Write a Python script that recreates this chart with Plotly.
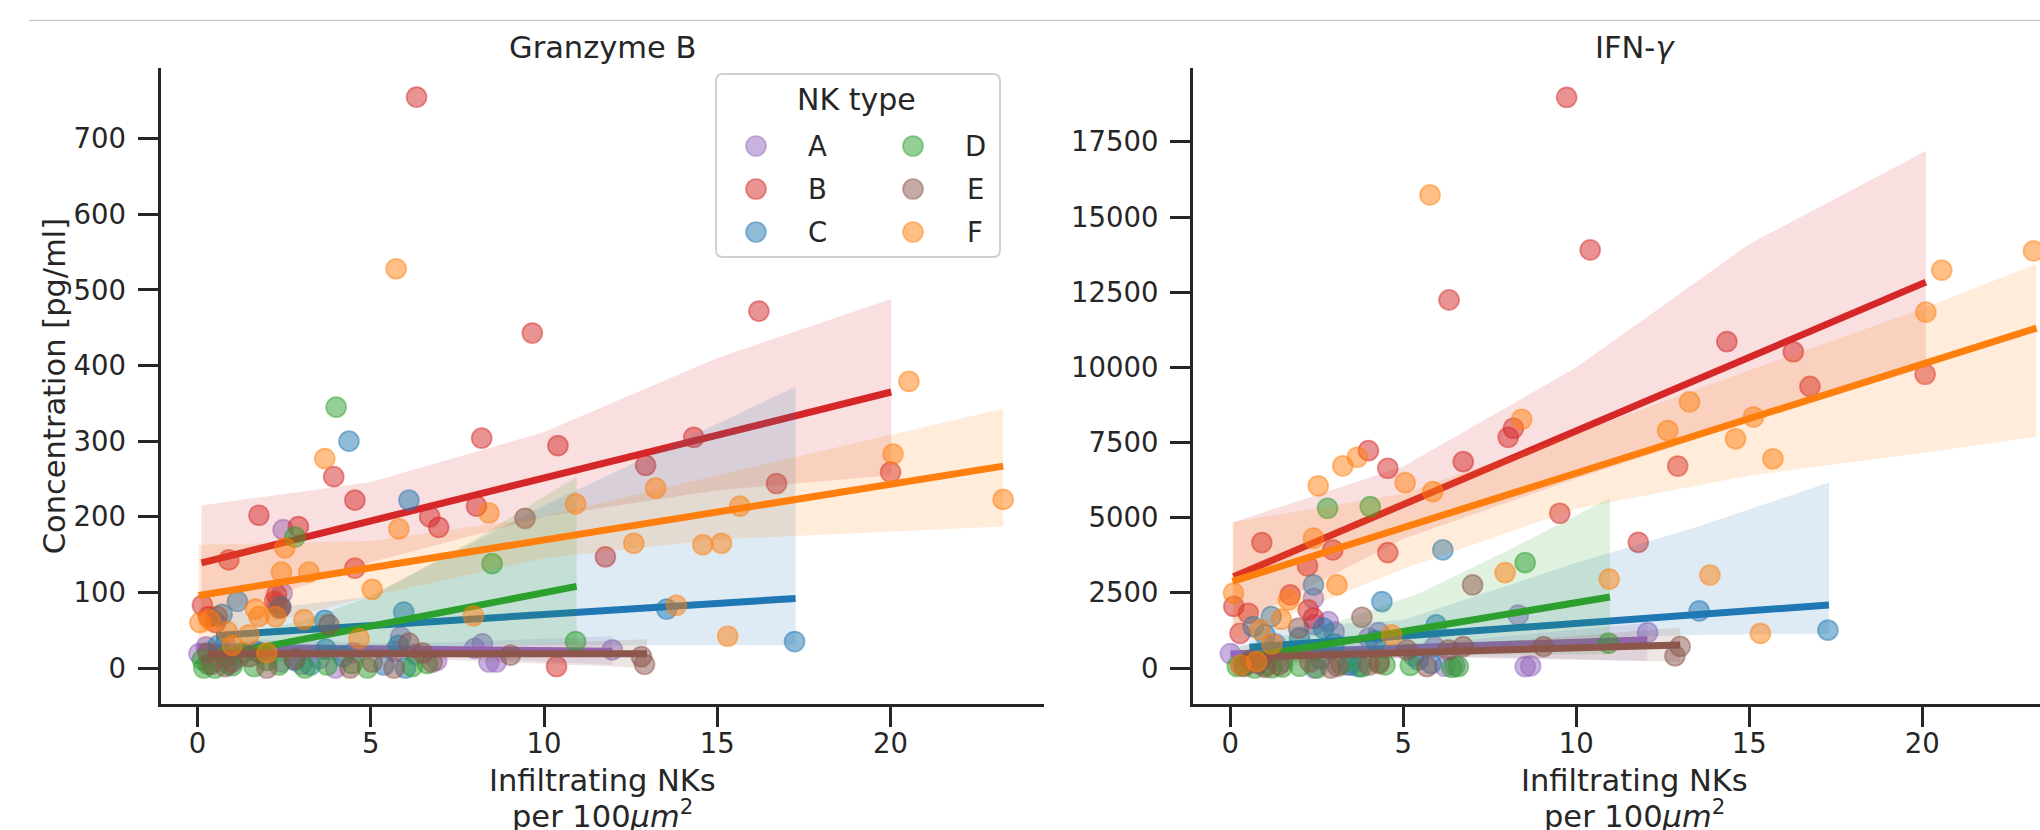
import plotly.graph_objects as go

# ---------------- data ----------------
GROUPS = ["A", "B", "C", "D", "E", "F"]
COLORS = {"A": (148, 103, 189), "B": (214, 39, 40), "C": (31, 119, 180),
          "D": (44, 160, 44), "E": (140, 86, 75), "F": (255, 127, 14)}

# Granzyme B panel: x (infiltrating NKs) and concentration per NK type
A_x_gzb = [0.04, 0.25, 0.8, 1.2, 1.7, 2.3, 2.44, 2.47, 2.4, 3.0, 3.5, 3.98, 4.5, 5.68, 5.86, 6.3, 6.9, 8.0, 8.22, 8.41, 8.62, 11.97]
A_gzb = [19, 28, 30, 15, 22, 85, 99, 183, 8, 5, 12, 0, 20, 22, 41, 18, 10, 26, 32, 8, 8, 24]
B_x_gzb = [0.14, 0.31, 0.52, 0.9, 1.77, 2.22, 2.28, 2.4, 2.91, 3.93, 4.54, 4.54, 6.32, 6.7, 6.96, 8.05, 8.2, 9.66, 10.36, 10.4, 11.77, 12.93, 14.32, 16.2, 16.71, 20.0]
B_gzb = [83, 68, 60, 143, 202, 88, 97, 80, 187, 253, 222, 132, 755, 200, 186, 214, 304, 443, 2, 294, 147, 268, 305, 472, 244, 259]
C_x_gzb = [0.6, 0.71, 0.9, 1.15, 1.8, 2.4, 2.8, 3.26, 3.67, 3.7, 4.2, 4.37, 5.38, 5.8, 5.95, 6.0, 6.1, 13.54, 17.23]
C_gzb = [30, 71, 5, 88, 20, 81, 10, 4, 63, 25, 15, 300, 4, 30, 74, 0, 222, 78, 35]
D_x_gzb = [0.14, 0.18, 0.3, 0.5, 0.8, 1.0, 1.3, 1.63, 2.0, 2.35, 2.81, 3.1, 3.74, 4.0, 4.46, 4.9, 6.2, 6.63, 8.5, 10.91]
D_gzb = [11, 0, 5, 0, 15, 3, 20, 2, 10, 4, 173, 0, 4, 345, 6, 0, 2, 6, 138, 35]
E_x_gzb = [0.3, 0.4, 0.57, 0.8, 1.0, 1.5, 2.0, 2.35, 2.8, 3.79, 4.4, 5.04, 5.67, 6.1, 6.5, 6.77, 9.03, 9.45, 12.81, 12.9]
E_gzb = [20, 5, 68, 2, 8, 15, 0, 79, 12, 57, 0, 8, 0, 33, 20, 8, 17, 198, 15, 5]
F_x_gzb = [0.07, 0.36, 0.86, 1.0, 1.48, 1.67, 1.77, 2.0, 2.25, 2.42, 2.52, 3.07, 3.21, 3.67, 4.66, 5.04, 5.73, 5.81, 7.96, 8.41, 10.91, 12.59, 13.22, 13.82, 14.58, 15.12, 15.3, 15.65, 20.07, 20.53, 23.25]
F_gzb = [60, 63, 48, 30, 44, 78, 68, 20, 68, 127, 159, 64, 127, 277, 39, 104, 528, 184, 69, 205, 217, 165, 238, 83, 163, 165, 42, 214, 283, 379, 223]

# IFN-gamma panel
A_x_ifn = [0.0, 0.3, 0.9, 1.3, 1.5, 2.4, 2.43, 2.43, 2.83, 3.0, 3.5, 4.0, 4.29, 5.3, 5.9, 6.2, 6.49, 8.32, 8.52, 8.68, 12.06]
A_ifn = [480, 100, 300, 800, 200, 2321, 1443, 0, 1543, 1200, 100, 1000, 1180, 400, 700, 60, 70, 1762, 47, 70, 1180]
B_x_ifn = [0.1, 0.28, 0.52, 0.91, 1.73, 2.23, 2.25, 2.4, 2.96, 3.99, 4.55, 4.55, 6.32, 6.73, 8.03, 8.18, 9.52, 9.72, 10.4, 11.79, 12.93, 14.35, 16.27, 16.75, 20.08]
B_ifn = [2050, 1157, 1822, 4171, 2431, 3396, 1932, 1656, 3928, 7231, 6645, 3838, 12242, 6864, 7675, 7975, 5148, 18982, 13905, 4180, 6718, 10858, 10519, 9365, 9771]
C_x_ifn = [0.66, 0.8, 1.0, 1.18, 2.0, 2.4, 2.6, 2.69, 3.0, 3.4, 3.7, 4.2, 4.38, 5.43, 5.8, 5.95, 6.14, 13.55, 17.27]
C_ifn = [1377, 200, 1100, 1710, 1000, 2764, 300, 1324, 800, 100, 50, 900, 2210, 269, 150, 1433, 3928, 1899, 1260]
D_x_ifn = [0.2, 0.4, 0.5, 0.7, 1.0, 1.2, 1.5, 2.0, 2.5, 2.81, 3.2, 3.8, 4.04, 4.3, 4.47, 5.2, 6.4, 6.59, 8.52, 10.93]
D_ifn = [50, 100, 150, 0, 80, 10, 30, 60, 0, 5314, 120, 40, 5368, 200, 103, 90, 20, 47, 3505, 825]
E_x_ifn = [0.4, 0.6, 0.8, 1.0, 1.4, 1.97, 2.3, 2.9, 3.1, 3.8, 4.0, 4.3, 5.1, 5.68, 6.3, 6.73, 7.0, 9.05, 12.85, 13.0]
E_ifn = [50, 250, 150, 20, 100, 1324, 200, 0, 60, 1689, 100, 150, 602, 47, 602, 712, 2764, 712, 406, 718]
F_x_ifn = [0.09, 0.3, 0.76, 0.86, 1.2, 1.47, 1.68, 2.4, 2.54, 3.08, 3.25, 3.67, 4.66, 5.05, 5.77, 5.85, 7.94, 8.42, 10.95, 12.64, 13.27, 13.86, 14.6, 15.12, 15.32, 15.68, 20.1, 20.56, 23.21]
F_ifn = [2488, 100, 213, 1267, 800, 1623, 2265, 4317, 6056, 2764, 6721, 7010, 1101, 6166, 15736, 5867, 3173, 8274, 2957, 7899, 8850, 3093, 7626, 8348, 1151, 6961, 11836, 13233, 13872]

# regression lines (x start, y start, x end, y end)
FIT_GZB = {"A": (0.0, 28, 11.97, 22), "B": (0.11, 139, 20.02, 365), "C": (0.54, 43, 17.26, 92),
           "D": (0.11, 12, 10.94, 108), "E": (0.3, 19, 12.97, 19), "F": (0.03, 96, 23.25, 267)}
FIT_IFN = {"A": (0.0, 470, 12.05, 940), "B": (0.09, 3035, 20.1, 12834), "C": (0.55, 690, 17.3, 2097),
           "D": (0.27, 310, 10.97, 2361), "E": (0.35, 359, 13.0, 768), "F": (0.06, 2880, 23.3, 11304)}

# confidence bands: x, upper, lower
BAND_GZB = {
    "A": ([0.0, 6, 11.97], [40, 32, 42], [14, 18, 4]),
    "B": ([0.11, 5, 10, 15, 20.02], [215, 246, 312, 410, 488], [62, 140, 200, 235, 255]),
    "C": ([0.54, 5, 10, 13, 17.26], [70, 95, 215, 280, 372], [15, 28, 30, 30, 30]),
    "D": ([0.11, 3, 5, 8, 10.94], [35, 62, 95, 170, 253], [-8, 12, 22, 30, 33]),
    "E": ([0.3, 6, 12.97], [30, 25, 38], [8, 13, 0]),
    "F": ([0.03, 5, 10, 15, 23.25], [163, 168, 200, 255, 343], [35, 95, 145, 170, 187]),
}
BAND_IFN = {
    "A": ([0.0, 6, 12.05], [800, 850, 1500], [150, 350, 230]),
    "B": ([0.09, 5, 10, 15, 20.1], [4850, 6700, 10000, 14100, 17200], [1400, 4300, 6300, 8200, 10000]),
    "C": ([0.55, 5, 10, 13.5, 17.3], [1300, 1600, 3500, 4700, 6170], [200, 700, 1000, 1100, 1150]),
    "D": ([0.27, 3, 5.5, 8, 10.97], [700, 1500, 2500, 3900, 5650], [-150, 250, 400, 450, 450]),
    "E": ([0.35, 6, 13.0], [600, 700, 1350], [100, 400, 200]),
    "F": ([0.06, 5, 10, 15, 20, 23.3], [4850, 5800, 7800, 9900, 11950, 13440], [1000, 3300, 5300, 6400, 7150, 7700]),
}

X_TICKS = [0, 5, 10, 15, 20]
GZB_TICKS = [0, 100, 200, 300, 400, 500, 600, 700]
IFN_TICKS = [0, 2500, 5000, 7500, 10000, 12500, 15000, 17500]
IFN_TICK_LABELS = ["0", "2500", "5000", "7500", "10000", "12500", "15000", "17500"]

POINTS_GZB = {"A": (A_x_gzb, A_gzb), "B": (B_x_gzb, B_gzb), "C": (C_x_gzb, C_gzb),
              "D": (D_x_gzb, D_gzb), "E": (E_x_gzb, E_gzb), "F": (F_x_gzb, F_gzb)}
POINTS_IFN = {"A": (A_x_ifn, A_ifn), "B": (B_x_ifn, B_ifn), "C": (C_x_ifn, C_ifn),
              "D": (D_x_ifn, D_ifn), "E": (E_x_ifn, E_ifn), "F": (F_x_ifn, F_ifn)}

# ---------------- figure ----------------
W, H = 2040, 830
FONT = "DejaVu Sans"
INK = "#262626"


def rgba(c, a):
    return "rgba(%d,%d,%d,%s)" % (c[0], c[1], c[2], a)


def px_x(p):
    return p / W


def px_y(p):
    return 1 - p / H


fig = go.Figure()

for panel, pts, fits, bands, xa, ya in [
    ("gzb", POINTS_GZB, FIT_GZB, BAND_GZB, "x", "y"),
    ("ifn", POINTS_IFN, FIT_IFN, BAND_IFN, "x2", "y2"),
]:
    for g in GROUPS:
        c = COLORS[g]
        xs, ys = pts[g]
        fig.add_trace(go.Scatter(
            x=xs, y=ys, mode="markers", xaxis=xa, yaxis=ya, showlegend=False,
            marker=dict(size=20, color=rgba(c, 0.5), line=dict(color=rgba(c, 0.5), width=1.7)),
            hoverinfo="skip"))
        bx, up, lo = bands[g]
        fig.add_trace(go.Scatter(
            x=list(bx) + list(bx)[::-1], y=list(up) + list(lo)[::-1], mode="lines",
            fill="toself", fillcolor=rgba(c, 0.15), line=dict(width=0),
            xaxis=xa, yaxis=ya, showlegend=False, hoverinfo="skip"))
        x0, y0, x1, y1 = fits[g]
        fig.add_trace(go.Scatter(
            x=[x0, x1], y=[y0, y1], mode="lines", xaxis=xa, yaxis=ya, showlegend=False,
            line=dict(color=rgba(c, 1), width=7), hoverinfo="skip"))

axis_common = dict(
    showline=True, linewidth=3, linecolor=INK, ticks="outside", ticklen=20, tickwidth=3,
    tickcolor=INK, showgrid=False, zeroline=False, tickfont=dict(family=FONT, size=27.5, color=INK),
    automargin=False,
)

YDOM = [px_y(704), px_y(68)]
fig.update_layout(
    template="none",
    width=W, height=H, margin=dict(l=0, r=0, t=0, b=0, autoexpand=False),
    paper_bgcolor="white", plot_bgcolor="white", showlegend=False,
    font=dict(family=FONT, color=INK),
    xaxis=dict(domain=[px_x(160.5), px_x(1043.7)], range=[-1.07, 24.42], tickvals=X_TICKS, anchor="y",
               ticklabelstandoff=-7, **axis_common),
    yaxis=dict(domain=YDOM, range=[-47.6, 793.5], tickvals=GZB_TICKS, anchor="x", ticklabelstandoff=6,
               title=dict(text="Concentration [pg/ml]", font=dict(family=FONT, size=30.5, color=INK)),
               **axis_common),
    xaxis2=dict(domain=[px_x(1193), 1.0], range=[-1.08, 23.4], tickvals=X_TICKS, anchor="y2",
                ticklabelstandoff=-7, **axis_common),
    yaxis2=dict(domain=YDOM, range=[-1197, 19957], tickvals=IFN_TICKS, ticktext=IFN_TICK_LABELS,
                anchor="x2", ticklabelstandoff=6, **axis_common),
)

PANEL_DOMS = [[px_x(160.5), px_x(1043.7)], [px_x(1193), px_x(2076)]]

# panel titles
for txt, dom in zip(["Granzyme B", "IFN-<i>γ</i>"], PANEL_DOMS):
    fig.add_annotation(text=txt, x=(dom[0] + dom[1]) / 2, y=px_y(47.6), xref="paper", yref="paper",
                       showarrow=False, xanchor="center", yanchor="middle",
                       font=dict(family=FONT, size=30.5, color=INK))

# x axis titles (two lines; the second runs off the bottom edge as in the reference)
for dom in PANEL_DOMS:
    xc = (dom[0] + dom[1]) / 2
    fig.add_annotation(text="Infiltrating NKs", x=xc, y=px_y(780), xref="paper", yref="paper",
                       showarrow=False, xanchor="center", yanchor="middle",
                       font=dict(family=FONT, size=30.5, color=INK))
    fig.add_annotation(text="per 100<i>μm</i><sup>2</sup>", x=xc, y=px_y(814), xref="paper", yref="paper",
                       showarrow=False, xanchor="center", yanchor="middle",
                       font=dict(family=FONT, size=30.5, color=INK))

# thin page rule at the top
fig.add_shape(type="line", xref="paper", yref="paper", x0=px_x(29), x1=1.0, y0=px_y(20.3), y1=px_y(20.3),
              line=dict(color="#c8c8c8", width=1.2))

# legend box (two columns)
bx0, bx1, by0, by1, r = 716, 1000, 74, 257, 7
path = ("M %f,%f L %f,%f Q %f,%f %f,%f L %f,%f Q %f,%f %f,%f L %f,%f Q %f,%f %f,%f L %f,%f Q %f,%f %f,%f Z" % (
    px_x(bx0 + r), px_y(by0), px_x(bx1 - r), px_y(by0), px_x(bx1), px_y(by0), px_x(bx1), px_y(by0 + r),
    px_x(bx1), px_y(by1 - r), px_x(bx1), px_y(by1), px_x(bx1 - r), px_y(by1),
    px_x(bx0 + r), px_y(by1), px_x(bx0), px_y(by1), px_x(bx0), px_y(by1 - r),
    px_x(bx0), px_y(by0 + r), px_x(bx0), px_y(by0), px_x(bx0 + r), px_y(by0)))
fig.add_shape(type="path", path=path, xref="paper", yref="paper",
              fillcolor="rgba(255,255,255,0.8)", line=dict(color="#d0d0d0", width=2))
fig.add_annotation(text="NK type", x=px_x(856), y=px_y(100), xref="paper", yref="paper", showarrow=False,
                   xanchor="center", yanchor="middle", font=dict(family=FONT, size=30, color=INK))
LEG_COLS = [756, 913]
LEG_TEXT = [817, 975]
LEG_ROWS = [146, 189, 232]
for i, g in enumerate(GROUPS):
    col, row = i // 3, i % 3
    c = COLORS[g]
    cx, cy = LEG_COLS[col], LEG_ROWS[row]
    fig.add_shape(type="circle", xref="paper", yref="paper", xsizemode="pixel", ysizemode="pixel",
                  xanchor=px_x(cx), yanchor=px_y(cy), x0=-10, x1=10, y0=-10, y1=10,
                  fillcolor=rgba(c, 0.5), line=dict(color=rgba(c, 0.5), width=1.7))
    fig.add_annotation(text=g, x=px_x(LEG_TEXT[col]), y=px_y(cy), xref="paper", yref="paper",
                       showarrow=False, xanchor="center", yanchor="middle",
                       font=dict(family=FONT, size=27.5, color=INK))

fig.write_html("out.html", config={"displayModeBar": False},
               post_script="document.body.style.margin='0';document.body.style.overflow='hidden';")
